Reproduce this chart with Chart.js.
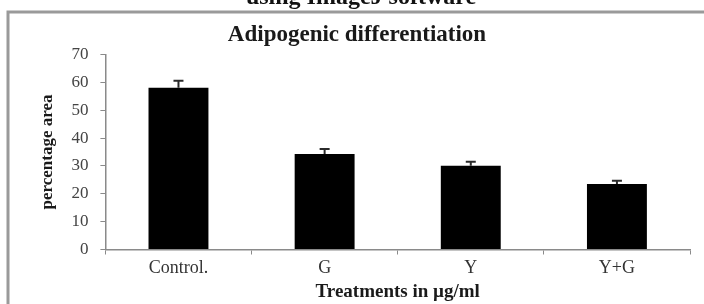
<!DOCTYPE html>
<html>
<head>
<meta charset="utf-8">
<script src="https://cdn.jsdelivr.net/npm/chart.js@4.4.1/dist/chart.umd.min.js"></script>
<style>
  html, body { margin: 0; padding: 0; background: #fff; }
  #wrap { width: 704px; height: 304px; }
</style>
</head>
<body>
<div id="wrap"><canvas id="adipoChart"></canvas></div>
<script>
// Data
const treatments = ['Control.', 'G', 'Y', 'Y+G'];
const percentArea = [58.1, 34.3, 30.1, 23.5];
const errorValues = [2.5, 1.8, 1.4, 1.2];
const yTicks = [0, 10, 20, 30, 40, 50, 60, 70];

const serif = "'Liberation Serif', 'Times New Roman', serif";

// Grey frame and the clipped caption line above it
const framePlugin = {
  id: 'frame',
  beforeDraw(chart) {
    const ctx = chart.ctx;
    ctx.save();
    ctx.fillStyle = '#fff';
    ctx.fillRect(0, 0, chart.width, chart.height);
    ctx.strokeStyle = '#9a9a9a';
    ctx.lineWidth = 3;
    ctx.beginPath();
    ctx.moveTo(8, chart.height + 2);
    ctx.lineTo(8, 12);
    ctx.lineTo(chart.width + 2, 12);
    ctx.stroke();
    ctx.fillStyle = '#111';
    ctx.font = 'bold 24px ' + serif;
    ctx.textAlign = 'center';
    ctx.textBaseline = 'alphabetic';
    ctx.fillText('using ImageJ software', 361, 4);
    ctx.restore();
  }
};

// Error bars drawn on top of each bar
const errorBarPlugin = {
  id: 'errorBars',
  afterDatasetsDraw(chart) {
    const ctx = chart.ctx;
    const yScale = chart.scales.y;
    const meta = chart.getDatasetMeta(0);
    ctx.save();
    ctx.strokeStyle = '#2a2a2a';
    ctx.lineWidth = 2;
    meta.data.forEach((bar, i) => {
      const top = yScale.getPixelForValue(percentArea[i] + errorValues[i]);
      ctx.beginPath();
      ctx.moveTo(bar.x, bar.y);
      ctx.lineTo(bar.x, top);
      ctx.moveTo(bar.x - 5, top);
      ctx.lineTo(bar.x + 5, top);
      ctx.stroke();
    });
    ctx.restore();
  }
};

const ctx = document.getElementById('adipoChart').getContext('2d');
const adipoChart = new Chart(ctx, {
  type: 'bar',
  data: {
    labels: treatments,
    datasets: [{
      label: 'percentage area',
      data: percentArea,
      backgroundColor: '#000',
      borderWidth: 0,
      barPercentage: 0.41,
      categoryPercentage: 1.0
    }]
  },
  options: {
    responsive: true,
    maintainAspectRatio: false,
    animation: false,
    layout: { padding: { left: 24, right: 14, top: 0, bottom: 2.5 } },
    plugins: {
      legend: { display: false },
      tooltip: { enabled: false },
      title: {
        display: true,
        text: 'Adipogenic differentiation',
        color: '#1a1a1a',
        font: { family: serif, size: 23, weight: 'bold' },
        padding: { top: 21, bottom: 6 }
      }
    },
    scales: {
      x: {
        grid: { display: true, drawOnChartArea: false, drawTicks: true, tickLength: 5, color: '#8a8a8a', offset: true },
        border: { color: '#8a8a8a', width: 1.5 },
        ticks: { color: '#333', font: { family: serif, size: 18, lineHeight: 1 }, padding: 5 },
        title: {
          display: true,
          text: 'Treatments in µg/ml',
          color: '#1a1a1a',
          font: { family: serif, size: 19, weight: 'bold', lineHeight: 1 },
          padding: { top: 0, bottom: 0 }
        }
      },
      y: {
        min: 0,
        max: 70,
        afterBuildTicks(axis) { axis.ticks = yTicks.map(v => ({ value: v })); },
        grid: { display: true, drawOnChartArea: false, drawTicks: true, tickLength: 5, color: '#8a8a8a' },
        border: { color: '#8a8a8a', width: 1.5 },
        ticks: { color: '#444', font: { family: serif, size: 17 }, padding: 12 },
        title: {
          display: true,
          text: 'percentage area',
          color: '#1a1a1a',
          font: { family: serif, size: 17, weight: 'bold' },
          padding: { top: 13, bottom: 2 }
        }
      }
    }
  },
  plugins: [framePlugin, errorBarPlugin]
});
</script>
</body>
</html>
